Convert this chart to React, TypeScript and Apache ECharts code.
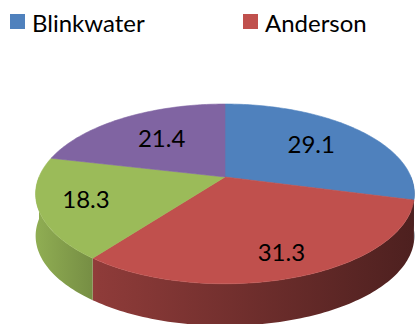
import React, { useEffect, useRef } from "react";
import * as echarts from "echarts";

// Legend entries shown above the pie
const categories = ["Blinkwater", "Anderson"];
// Slice values, clockwise from 12 o'clock
const values = [29.1, 31.3, 18.3, 21.4];
const colors = ["#4f81bd", "#c0504d", "#9bbb59", "#8064a2"];

const FONT = "Lato, 'Noto Sans', sans-serif";

// Pie geometry (pixels) for the tilted, perspective-projected disc
const CX = 225;
const CY = 177;
const RX = 186;
const RY = 86.7;
const PERSP = 0.188;
const DEPTH = 42;

function shade(hex: string, k: number): string {
  const n = parseInt(hex.slice(1), 16);
  const r = Math.round(((n >> 16) & 255) * k);
  const g = Math.round(((n >> 8) & 255) * k);
  const b = Math.round((n & 255) * k);
  return `rgb(${r},${g},${b})`;
}

// Project a point on the disc: f = radius fraction, t = angle clockwise from top,
// z = 0 for the top face, 1 for the bottom rim.
function proj(f: number, t: number, z: number): number[] {
  const X = f * Math.sin(t);
  const D = -f * Math.cos(t);
  const s = 1 / (1 - PERSP * D);
  return [CX + RX * X * s, CY + RY * D * s + DEPTH * z];
}

export default function App() {
  const ref = useRef<HTMLDivElement>(null);

  useEffect(() => {
    if (!ref.current) return;
    const chart = echarts.init(ref.current, null, { renderer: "svg" });
    const total = values.reduce((a, b) => a + b, 0);

    const renderItem = (params: any, api: any) => {
      const i = params.dataIndex;
      const v = api.value(0);
      const before = values.slice(0, i).reduce((a, b) => a + b, 0);
      const start = (before / total) * Math.PI * 2;
      const end = start + (v / total) * Math.PI * 2;
      const base = colors[i];
      const children: any[] = [];

      // Visible outer wall (front half of the disc)
      const lo = Math.max(start, Math.PI / 2);
      const hi = Math.min(end, (Math.PI * 3) / 2);
      if (lo < hi) {
        const steps = Math.max(6, Math.ceil((hi - lo) / 0.02));
        const topEdge: number[][] = [];
        const bottomEdge: number[][] = [];
        for (let k = 0; k <= steps; k++) {
          const t = lo + ((hi - lo) * k) / steps;
          topEdge.push(proj(1, t, 0));
          bottomEdge.push(proj(1, t, 1));
        }
        children.push({
          type: "polygon",
          shape: { points: topEdge.concat(bottomEdge.reverse()) },
          style: {
            fill: new echarts.graphic.LinearGradient(
              35,
              0,
              415,
              0,
              [
                { offset: 0, color: shade(base, 0.93) },
                { offset: 0.17, color: shade(base, 0.74) },
                { offset: 1, color: shade(base, 0.4) },
              ],
              true
            ),
          },
        });
      }

      // Top face of the slice
      const steps = Math.max(6, Math.ceil((end - start) / 0.02));
      const pts: number[][] = [proj(0, 0, 0)];
      for (let k = 0; k <= steps; k++) {
        pts.push(proj(1, start + ((end - start) * k) / steps, 0));
      }
      children.push({
        type: "polygon",
        shape: { points: pts },
        style: { fill: base, stroke: base, lineWidth: 0.6 },
      });

      // Value label along the slice bisector, pushed outward on the near side
      const mid = (start + end) / 2;
      const d = -Math.cos(mid);
      const r = 0.72 + 0.22 * d;
      children.push({
        type: "text",
        x: CX + RX * r * Math.sin(mid),
        y: CY + RY * r * d - 2,
        style: {
          text: String(v),
          fill: "#000000",
          font: `24px ${FONT}`,
          align: "center",
          verticalAlign: "middle",
        },
      });

      return { type: "group", children };
    };

    const legendX = [10, 243];
    const legendGraphics: any[] = [];
    categories.forEach((name, i) => {
      legendGraphics.push({
        type: "rect",
        shape: { x: legendX[i], y: 14, width: 15, height: 15 },
        style: { fill: colors[i] },
      });
      legendGraphics.push({
        type: "text",
        x: legendX[i] + 22,
        y: 22,
        style: {
          text: name,
          fill: "#000000",
          font: `24px ${FONT}`,
          verticalAlign: "middle",
        },
      });
    });

    chart.setOption({
      animation: false,
      backgroundColor: "#ffffff",
      graphic: legendGraphics,
      series: [
        {
          type: "custom",
          coordinateSystem: "none",
          renderItem,
          data: values.map((v) => [v]),
        },
      ],
    });

    return () => chart.dispose();
  }, []);

  return (
    <div
      ref={ref}
      style={{ position: "fixed", left: 0, top: 0, width: 415, height: 324 }}
    />
  );
}
